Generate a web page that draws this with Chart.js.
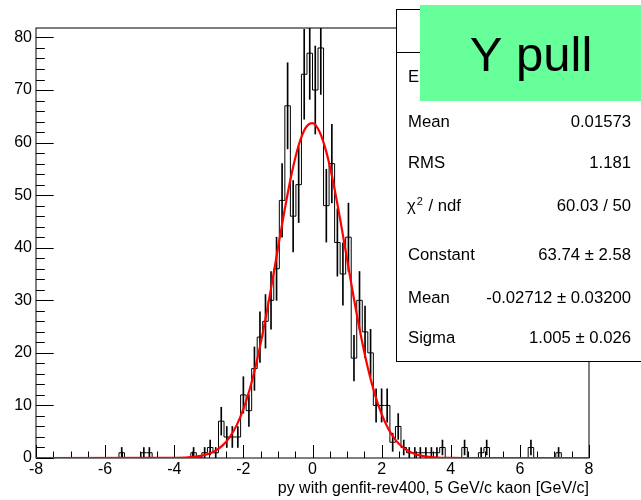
<!DOCTYPE html>
<html>
<head>
<meta charset="utf-8">
<script src="https://cdn.jsdelivr.net/npm/chart.js@4.4.1/dist/chart.umd.min.js"></script>
<style>
  html, body { margin: 0; padding: 0; background: #fff; }
  canvas { display: block; }
</style>
</head>
<body>
<canvas id="myChart" width="641" height="500"></canvas>
<script>
// histogram binning: 100 bins from -8 to 8
const xMin = -8, xMax = 8, nBins = 100;

// entries per bin (bin 0 starts at -8)
const counts = [
  0, 0, 0, 0, 0, 0, 0, 0, 0, 0,
  0, 0, 0, 0, 0, 1, 0, 0, 0, 1,
  1, 0, 0, 0, 0, 0, 0, 0, 1, 0,
  1, 2, 1, 7, 4, 4, 4, 12, 9, 17,
  23, 26, 30, 36, 49, 67, 46, 52, 73, 77,
  70, 78, 48, 56, 41, 35, 42, 19, 30, 24,
  20, 10, 10, 10, 3, 6, 2, 1, 1, 1,
  1, 1, 1, 2, 0, 0, 0, 2, 0, 0,
  1, 2, 0, 0, 0, 0, 0, 0, 0, 2,
  0, 0, 0, 0, 1, 0, 0, 0, 0, 0
];

// gaussian fit curve (red)
const fitX = [-8, -4.4, -4.0, -3.6, -3.2, -3.0, -2.8, -2.6, -2.4, -2.2, -2.0, -1.8, -1.6, -1.4, -1.2, -1.0,
  -0.8, -0.6, -0.4, -0.2, 0, 0.2, 0.4, 0.6, 0.8, 1.0, 1.2, 1.4, 1.6, 1.8, 2.0, 2.2, 2.4, 2.6, 2.8, 3.0,
  3.2, 3.6, 4.0, 4.4, 8];
const fitY = [0, 0.005, 0.026, 0.115, 0.44, 0.80, 1.41, 2.40, 3.92, 6.16, 9.28, 13.45, 18.73, 25.08, 32.27, 39.90,
  47.42, 54.18, 59.50, 62.80, 63.72, 62.13, 58.24, 52.47, 45.43, 37.81, 30.24, 23.26, 17.19, 12.21, 8.34, 5.47, 3.46, 2.09, 1.22, 0.68,
  0.37, 0.094, 0.021, 0.004, 0];

const xTicks = [-8, -6, -4, -2, 0, 2, 4, 6, 8];
const yTicks = [0, 10, 20, 30, 40, 50, 60, 70, 80];
const yMax = 81.8;

const statLabels = ['Entries', 'Mean', 'RMS', 'χ2 / ndf', 'Constant', 'Mean', 'Sigma'];
const statValues = ['1064', '0.01573', '1.181', '60.03 / 50', '63.74 ± 2.58', '-0.02712 ± 0.03200', '1.005 ± 0.026'];
const histTitle = 'Y pull';
const xTitle = 'py with genfit-rev400, 5 GeV/c kaon [GeV/c]';

const FONT = '"Liberation Sans", Arial, Helvetica, sans-serif';

// build the datasets
const binWidth = (xMax - xMin) / nBins;
const histPoints = counts.map((c, i) => ({x: xMin + i * binWidth, y: c}));
histPoints.push({x: xMax, y: counts[nBins - 1]});

const errBars = [];
counts.forEach((c, i) => {
  if (c > 0) {
    const e = Math.sqrt(c);
    errBars.push({x: xMin + (i + 0.5) * binWidth, y: [c - e, c + e]});
  }
});

const fitPoints = fitX.map((x, i) => ({x: x, y: fitY[i]}));

// frame and inner ticks like ROOT draws them
const frameAndTicks = {
  id: 'frameAndTicks',
  beforeDatasetsDraw(chart) {
    const {ctx, chartArea: a, scales: {x, y}} = chart;
    ctx.save();
    ctx.strokeStyle = '#000';
    ctx.lineWidth = 1;
    ctx.strokeRect(a.left, a.top, a.right - a.left, a.bottom - a.top);
    ctx.beginPath();
    for (let v = xMin; v <= xMax; v += 0.5) {
      const px = Math.round(x.getPixelForValue(v)) + 0.5;
      const len = xTicks.includes(v) ? 13 : 6.5;
      ctx.moveTo(px, a.bottom);
      ctx.lineTo(px, a.bottom - len);
    }
    for (let v = 0; v <= yMax; v += 2) {
      const py = Math.round(y.getPixelForValue(v)) + 0.5;
      const len = yTicks.includes(v) ? 17.7 : 8.8;
      ctx.moveTo(a.left, py);
      ctx.lineTo(a.left + len, py);
    }
    ctx.stroke();
    ctx.restore();
  }
};

// stats box and title pave
const statsBox = {
  id: 'statsBox',
  afterDraw(chart) {
    const ctx = chart.ctx;
    ctx.save();
    ctx.fillStyle = '#fff';
    ctx.strokeStyle = '#000';
    ctx.lineWidth = 1;
    ctx.fillRect(396, 9, 250, 353);
    ctx.strokeRect(396.5, 9.5, 250, 352);
    ctx.beginPath();
    ctx.moveTo(396, 52.5);
    ctx.lineTo(641, 52.5);
    ctx.stroke();

    const baselines = [82, 127.3, 168.3, 211, 259.5, 303, 343];
    ctx.fillStyle = '#000';
    ctx.font = '16.7px ' + FONT;
    ctx.textBaseline = 'alphabetic';
    statLabels.forEach((lab, i) => {
      const yb = baselines[i];
      ctx.textAlign = 'left';
      if (lab.startsWith('χ2')) {
        ctx.fillText('χ', 407, yb);
        const w = ctx.measureText('χ').width;
        ctx.font = '11px ' + FONT;
        ctx.fillText('2', 407 + w + 1, yb - 6);
        ctx.font = '16.7px ' + FONT;
        ctx.fillText(' / ndf', 407 + w + 8, yb);
      } else {
        ctx.fillText(lab, 408, yb);
      }
      ctx.textAlign = 'right';
      ctx.fillText(statValues[i], 631, yb);
    });

    ctx.fillStyle = '#66ff99';
    ctx.fillRect(420, 5, 221, 96);
    ctx.fillStyle = '#000';
    ctx.font = '49px ' + FONT;
    ctx.textAlign = 'center';
    ctx.fillText(histTitle, 531, 70.5);
    ctx.restore();
  }
};

const config = {
  type: 'line',
  data: {
    datasets: [
      {
        type: 'line',
        data: fitPoints,
        borderColor: '#ff0000',
        borderWidth: 2.2,
        pointRadius: 0,
        cubicInterpolationMode: 'monotone',
        order: 0
      },
      {
        type: 'line',
        data: histPoints,
        borderColor: '#000',
        borderWidth: 1,
        pointRadius: 0,
        stepped: 'before',
        order: 1
      },
      {
        type: 'bar',
        data: errBars,
        backgroundColor: '#000',
        borderWidth: 0,
        barThickness: 1,
        order: 2
      }
    ]
  },
  options: {
    responsive: false,
    animation: false,
    events: [],
    layout: {padding: {left: 0, right: 52, top: 28, bottom: 0}},
    plugins: {
      legend: {display: false},
      tooltip: {enabled: false}
    },
    scales: {
      x: {
        type: 'linear',
        min: xMin,
        max: xMax,
        offset: false,
        grid: {display: false, drawTicks: false, offset: false},
        border: {display: false},
        afterBuildTicks: s => { s.ticks = xTicks.map(v => ({value: v})); },
        afterFit: s => { s.height = 42; },
        ticks: {
          color: '#000',
          font: {family: FONT, size: 16},
          padding: 2,
          maxRotation: 0,
          autoSkip: false
        },
        title: {
          display: true,
          text: xTitle,
          align: 'end',
          color: '#000',
          font: {family: FONT, size: 16},
          padding: {top: 0, bottom: 2}
        }
      },
      y: {
        type: 'linear',
        min: 0,
        max: yMax,
        grid: {display: false, drawTicks: false},
        border: {display: false},
        afterBuildTicks: s => { s.ticks = yTicks.map(v => ({value: v})); },
        afterFit: s => { s.width = 36; },
        ticks: {
          color: '#000',
          font: {family: FONT, size: 16},
          padding: 4,
          autoSkip: false
        }
      }
    }
  },
  plugins: [frameAndTicks, statsBox]
};

window.onload = function() {
  const ctx = document.getElementById('myChart').getContext('2d');
  const myChart = new Chart(ctx, config);
};
</script>
</body>
</html>
